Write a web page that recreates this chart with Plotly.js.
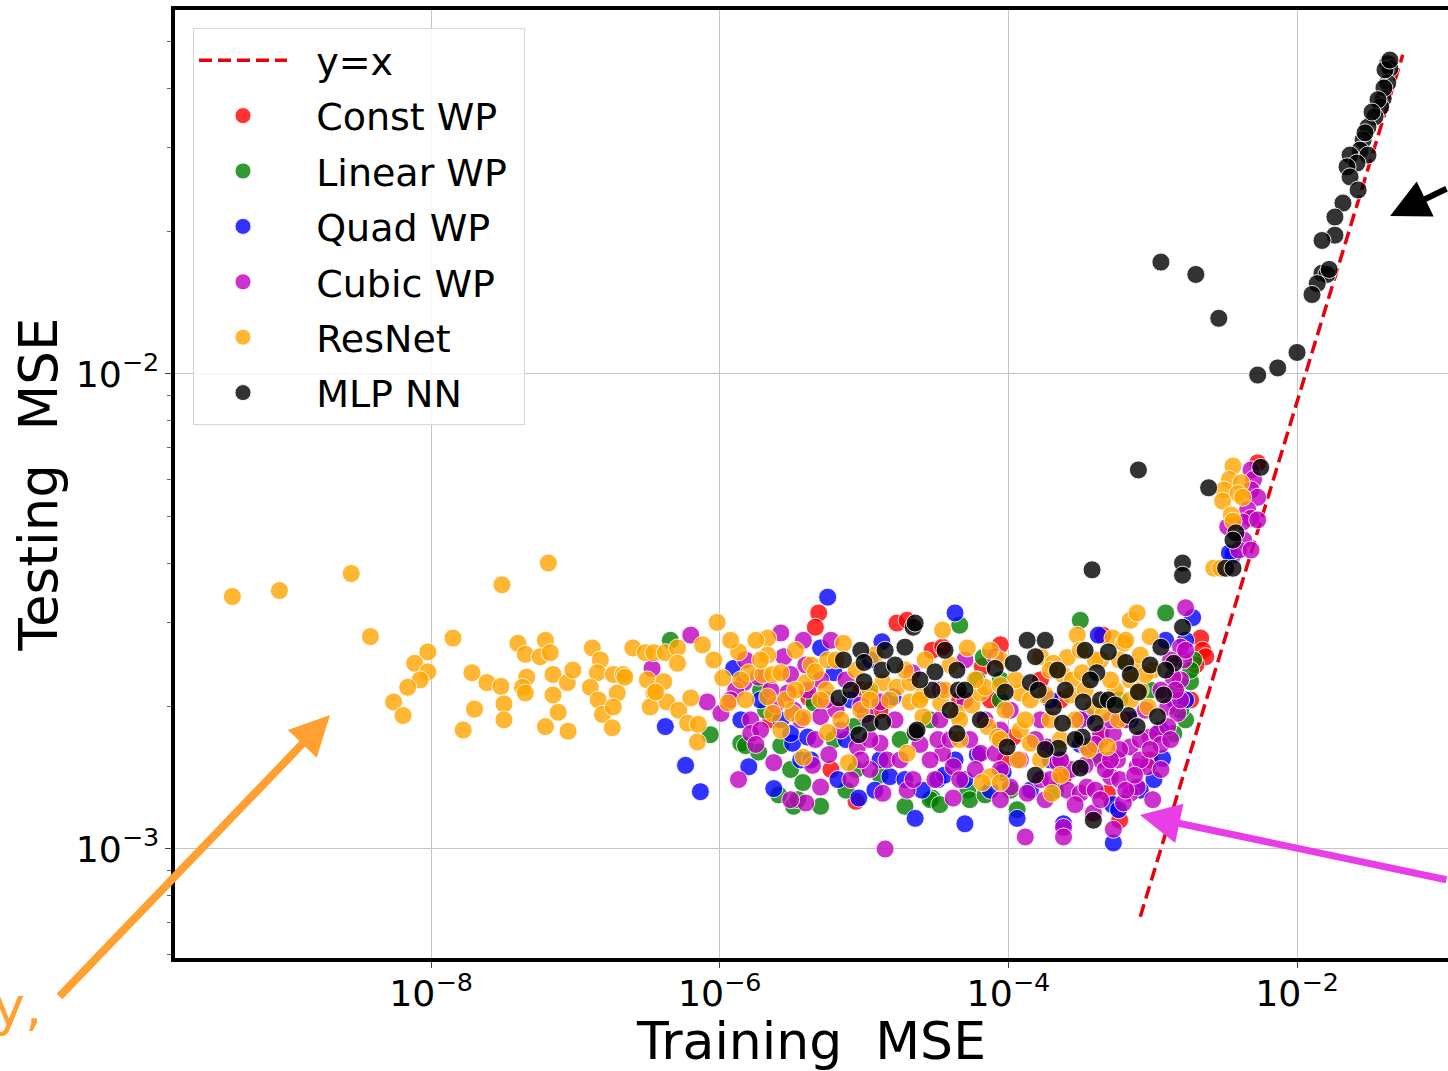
<!DOCTYPE html>
<html><head><meta charset="utf-8">
<script src="https://cdn.plot.ly/plotly-3.0.1.min.js"></script>
<style>html,body{margin:0;padding:0;overflow:hidden;background:#fff}</style>
</head><body><div id="chart" style="width:1448px;height:1071px"></div>
<script>
// Reference line
const lineX = [8.2e-4, 5.4e-2];
const lineY = [7.2e-4, 4.7e-2];

const constX = [4.85e-6,4.6e-6,1.69e-5,8.8e-6,4.15e-6,2.96e-5,3.5e-5,8.8e-5,1.99e-5,6.6e-5,4.85e-4,2.15e-3,2.22e-3,2.33e-3,4.5e-4,2.41e-4,1.08e-4,5.34e-3,1.29e-5,4.6e-5,1.67e-4,9.6e-4,5.9e-6,1.83e-3,9.5e-5,5.9e-4,1.99e-3,2.26e-6,9.5e-6,7.5e-5,4.35e-4,2.3e-4];
const constY = [3.14e-3,2.93e-3,2.99e-3,1.26e-3,2.08e-3,2.62e-3,2.66e-3,2.69e-3,3.03e-3,2.42e-3,1.31e-3,2.78e-3,2.62e-3,2.54e-3,2.82e-3,1.42e-3,1.72e-3,6.5e-3,1.96e-3,2.06e-3,2.27e-3,1.54e-3,1.47e-3,2.06e-3,1.54e-3,1.15e-3,2.44e-3,1.87e-3,2.16e-3,2.06e-3,1.7e-3,2.06e-3];

const linearX = [4.55e-7,8.6e-7,1.4e-6,1.86e-6,3.77e-6,3.25e-6,5.0e-6,1.92e-5,6.2e-6,4.5e-6,8.5e-6,4.6e-5,6.7e-5,2.96e-5,5.25e-5,3.15e-4,1.23e-3,1.83e-3,1.92e-3,1.4e-3,1.15e-4,6.1e-5,1.1e-5,1.78e-5,2.87e-5,8.8e-5,2.3e-4,5.9e-4,9.6e-4,1.69e-3,1.92e-6,2.65e-6,7.5e-6,2.87e-5,1.51e-6,2.56e-6,3.47e-6,5.4e-5,1.03e-4,1.44e-3,2.08e-6,3.1e-6,8.8e-6,1.29e-5,3.35e-5,6.9e-5,2.12e-4,4.0e-4,1.83e-3,1.56e-3,8.8e-5];
const linearY = [2.75e-3,1.74e-3,1.67e-3,1.6e-3,1.38e-3,1.23e-3,1.23e-3,1.23e-3,1.7e-3,2.03e-3,1.81e-3,2.96e-3,2.53e-3,1.28e-3,1.33e-3,3.03e-3,3.14e-3,2.25e-3,2.5e-3,1.75e-3,1.21e-3,2.27e-3,2.16e-3,1.7e-3,1.87e-3,2.06e-3,1.54e-3,2.06e-3,2.16e-3,1.87e-3,2.16e-3,1.65e-3,1.33e-3,1.27e-3,1.65e-3,1.3e-3,1.27e-3,1.27e-3,1.33e-3,2.16e-3,1.96e-3,1.47e-3,1.47e-3,1.43e-3,1.24e-3,1.3e-3,1.33e-3,1.58e-3,2.38e-3,1.96e-3,2.27e-3];

const quadX = [5.6e-6,1.25e-6,4.2e-7,5.8e-7,7.35e-7,1.59e-6,2.37e-6,5.0e-6,3.2e-6,1.33e-5,6.6e-6,9.2e-6,1.51e-5,2.26e-5,3.1e-6,4.07e-6,6.2e-6,1.59e-5,4.27e-5,5.0e-5,5.0e-5,3.25e-5,2.52e-5,1.15e-4,2.41e-4,5.34e-4,5.25e-4,5.8e-4,4.2e-4,1.17e-3,1.02e-3,1.89e-3,1.4e-3,6.1e-5,9.2e-5,3.5e-4,3.6e-3,3.4e-3,1.29e-5,3.6e-5,8.8e-5,1.95e-4,7.0e-4,1.92e-6,3.64e-6,8.1e-6,1.23e-3,1.69e-3,1.4e-6,2.65e-6,4.27e-6,7.5e-6,1.19e-5,1.92e-5,7.5e-5,1.42e-4,1.95e-4,3.15e-4,8.2e-4,1.14e-3,1.69e-3,1.1e-5,4.27e-5];
const quadY = [3.39e-3,2.4e-3,1.81e-3,1.5e-3,1.32e-3,1.49e-3,1.34e-3,2.65e-3,1.67e-3,2.73e-3,1.4e-3,1.28e-3,1.42e-3,1.16e-3,1.75e-3,1.72e-3,2.35e-3,2.09e-3,3.14e-3,1.13e-3,1.4e-3,1.4e-3,1.33e-3,1.16e-3,1.13e-3,1.03e-3,1.24e-3,1.21e-3,2.82e-3,1.55e-3,1.4e-3,3.07e-3,2.06e-3,1.58e-3,1.45e-3,1.9e-3,4.16e-3,4.2e-3,1.54e-3,1.43e-3,1.7e-3,2.06e-3,1.87e-3,2.06e-3,1.54e-3,2.06e-3,2.75e-3,2.06e-3,1.87e-3,1.87e-3,1.54e-3,1.7e-3,1.33e-3,1.4e-3,1.33e-3,1.33e-3,1.54e-3,1.66e-3,1.33e-3,1.78e-3,2.75e-3,2.5e-3,1.54e-3];

const cubicX = [6.3e-7,3.4e-7,8.2e-7,1.02e-6,1.35e-6,2.37e-6,2.65e-6,3.8e-6,1.47e-6,1.86e-6,2.78e-6,1.64e-6,1.64e-6,1.92e-6,2.96e-6,3.25e-6,4.07e-6,5.0e-6,5.0e-6,4.4e-6,5.7e-6,5.0e-6,3.95e-6,8.1e-6,9.0e-6,1.29e-5,1.44e-5,1.35e-5,1.99e-5,2.15e-5,1.29e-5,1.4e-5,2.19e-5,3.35e-5,3.5e-5,4.15e-5,4.15e-5,3.25e-5,6.4e-5,8.1e-5,8.8e-5,1.03e-4,1.35e-4,1.31e-4,5.0e-5,8.1e-5,1.67e-4,1.86e-4,2.56e-4,3.15e-4,3.5e-4,2.41e-4,2.41e-4,3.88e-4,5.34e-4,5.1e-4,5.7e-4,7.0e-4,7.8e-4,9.2e-4,7.0e-4,7.8e-4,1.0e-3,6.27e-4,9.6e-4,1.08e-3,1.27e-3,1.49e-3,1.56e-3,1.64e-3,1.69e-3,1.56e-3,1.38e-3,1.27e-3,4.35e-4,3.5e-4,5.34e-4,1.67e-4,2.19e-4,4.8e-3,5.0e-3,4.8e-3,5.34e-3,4.55e-3,4.8e-3,4.2e-3,3.31e-3,4.27e-3,3.95e-3,4.8e-3,5.34e-3,4.35e-4,5.9e-4,8.2e-4,1.14e-3,4.6e-5,5.4e-5,2.87e-5,1.1e-5,6.9e-6,1.02e-5,1.29e-6,1.51e-6,2.26e-6,3.1e-6,3.64e-6,4.6e-6,6.4e-6,7.5e-6,9.5e-6,1.1e-5,1.64e-5,1.78e-5,2.44e-5,3.1e-5,3.95e-5,5.9e-5,6.9e-5,8.8e-5,1.21e-4,1.54e-4,1.95e-4,2.7e-4,3.4e-4,4.0e-4,4.7e-4,5.9e-4,6.5e-4,8.2e-4,8.9e-4,1.14e-3,1.33e-3,1.56e-3,4.35e-4,2.9e-4,1.8e-4,5.0e-5,3.35e-5,1.03e-4,9.5e-6,5.45e-6,4.0e-4,5.1e-4,6.5e-4,7.5e-4,9.6e-4,1.14e-3,1.33e-3,1.44e-3,1.69e-3,5.1e-4,3.15e-4,2.3e-4,1.19e-6,1.78e-6,2.44e-6,3.95e-6,5.9e-6,3.1e-6,8.8e-5];
const cubicY = [2.82e-3,2.4e-3,2.04e-3,1.93e-3,1.4e-3,1.52e-3,2.85e-3,2.75e-3,2.24e-3,2.3e-3,2.54e-3,1.87e-3,1.75e-3,1.78e-3,2.13e-3,1.96e-3,2.16e-3,2.27e-3,1.9e-3,1.5e-3,1.58e-3,1.35e-3,1.25e-3,1.4e-3,1.64e-3,1.67e-3,1.54e-3,1.31e-3,1.33e-3,2.35e-3,2.04e-3,1.0e-3,1.4e-3,1.87e-3,1.59e-3,1.49e-3,1.28e-3,1.7e-3,1.59e-3,1.59e-3,1.78e-3,1.35e-3,1.31e-3,1.06e-3,2.5e-3,2.54e-3,1.87e-3,1.64e-3,1.33e-3,1.31e-3,1.35e-3,1.11e-3,1.06e-3,1.19e-3,1.1e-3,1.42e-3,1.54e-3,1.64e-3,1.49e-3,1.49e-3,1.31e-3,1.35e-3,1.27e-3,1.25e-3,1.72e-3,1.75e-3,1.99e-3,1.93e-3,2.27e-3,2.5e-3,3.22e-3,2.66e-3,2.3e-3,1.81e-3,1.75e-3,1.64e-3,1.75e-3,1.4e-3,1.52e-3,6.28e-3,6.0e-3,5.7e-3,5.5e-3,5.18e-3,4.97e-3,4.88e-3,4.77e-3,4.47e-3,4.26e-3,4.26e-3,4.93e-3,1.54e-3,1.4e-3,1.54e-3,1.66e-3,1.4e-3,1.7e-3,1.54e-3,1.47e-3,1.78e-3,1.92e-3,2.16e-3,2.5e-3,2.16e-3,2.33e-3,1.87e-3,1.7e-3,1.96e-3,2.27e-3,1.54e-3,1.7e-3,1.87e-3,1.54e-3,1.66e-3,1.4e-3,1.7e-3,1.47e-3,1.87e-3,1.47e-3,1.54e-3,1.7e-3,1.4e-3,1.47e-3,1.5e-3,1.33e-3,1.47e-3,1.62e-3,1.87e-3,1.7e-3,1.96e-3,2.16e-3,2.5e-3,2.06e-3,1.27e-3,1.24e-3,1.27e-3,2.06e-3,2.16e-3,1.96e-3,2.01e-3,2.06e-3,1.66e-3,1.54e-3,1.33e-3,1.43e-3,1.62e-3,1.47e-3,1.7e-3,2.16e-3,2.62e-3,1.87e-3,1.87e-3,1.54e-3,2.06e-3,1.66e-3,2.01e-3,2.44e-3,2.75e-3,1.27e-3,1.27e-3];

const resnetX = [4.2e-10,8.9e-10,2.8e-9,3.8e-9,3.1e-8,6.5e-8,9.5e-9,7.7e-9,9.5e-9,8.4e-9,6.9e-9,5.5e-9,6.4e-9,1.42e-8,1.92e-8,2.44e-8,3.05e-8,4.0e-8,4.5e-8,6.2e-8,5.7e-8,6.7e-8,4.6e-8,4.3e-8,4.5e-8,3.2e-8,3.2e-8,1.67e-8,2.0e-8,6.2e-8,7.0e-8,8.8e-8,9.6e-8,7.0e-8,7.6e-8,8.9e-8,1.31e-7,1.49e-7,1.42e-7,1.27e-7,1.44e-7,1.54e-7,1.83e-7,2.15e-7,1.95e-7,1.83e-7,1.8e-7,2.5e-7,3.05e-7,3.5e-7,3.15e-7,3.5e-7,3.3e-7,4.1e-7,4.3e-7,4.2e-7,5.1e-7,7.6e-7,9.6e-7,2.2e-7,3.6e-7,5.1e-7,5.2e-7,6.3e-7,6.0e-7,7.1e-7,7.0e-7,9.1e-7,1.05e-6,1.14e-6,1.35e-6,1.51e-6,1.59e-6,2.15e-6,2.15e-6,1.99e-6,2.33e-6,2.65e-6,2.15e-6,2.33e-6,2.65e-6,3.2e-6,3.95e-6,3.8e-6,4.3e-6,4.6e-6,5.6e-6,5.6e-6,3.8e-6,7.2e-6,7.8e-6,9.5e-6,1.35e-5,1.69e-5,2.08e-5,1.99e-5,3.5e-5,5.2e-5,2.08e-5,2.56e-5,3.4e-5,4.4e-5,5.6e-5,6.4e-5,6.9e-5,7.2e-5,8.4e-5,7.5e-5,8.8e-5,6.6e-5,1.17e-4,1.21e-4,1.42e-4,1.67e-4,2.0e-4,2.3e-4,2.56e-4,2.37e-4,3.0e-4,2.78e-4,3.25e-4,2.7e-4,3.9e-4,5.3e-4,6.3e-4,7.4e-4,7.0e-4,7.8e-4,7.0e-4,5.5e-4,4.55e-4,4.85e-4,3.6e-4,9.6e-4,1.0e-3,8.2e-4,9.3e-4,1.67e-4,2.05e-4,1.21e-4,2.56e-5,3.6e-3,3.4e-3,3.1e-3,4.1e-3,3.9e-3,3.05e-3,4.2e-3,3.5e-3,3.6e-3,2.65e-3,2.95e-3,1.1e-5,3.95e-5,8.8e-5,4.6e-5,7.0e-4,4.35e-4,1.95e-4,1.19e-6,1.92e-6,2.87e-6,3.35e-6,5.45e-6,6.9e-6,8.8e-6,1.19e-5,1.51e-5,1.92e-5,2.65e-5,3.64e-5,4.6e-5,5.9e-5,7.5e-5,9.5e-5,1.12e-4,1.31e-4,1.8e-4,2.3e-4,2.9e-4,3.4e-4,4.0e-4,5.1e-4,5.8e-4,6.5e-4,8.2e-4,8.9e-4,3.15e-4,8.8e-5,2.44e-5,1.1e-5,1.4e-6,1.78e-6,3.35e-6,5.0e-6,6.4e-6,8.8e-5,1.95e-4,5.9e-4,1.42e-4];
const resnetY = [3.4e-3,3.5e-3,3.8e-3,2.8e-3,3.6e-3,4.0e-3,2.6e-3,2.46e-3,2.36e-3,2.27e-3,2.19e-3,2.04e-3,1.91e-3,2.78e-3,2.35e-3,2.24e-3,2.2e-3,2.71e-3,2.57e-3,2.75e-3,2.54e-3,2.59e-3,2.3e-3,2.19e-3,2.13e-3,2.02e-3,1.87e-3,1.78e-3,1.97e-3,1.81e-3,2.33e-3,2.24e-3,2.38e-3,2.11e-3,1.94e-3,1.77e-3,2.65e-3,2.5e-3,2.35e-3,2.19e-3,2.06e-3,1.92e-3,2.33e-3,2.33e-3,2.13e-3,1.99e-3,1.8e-3,2.65e-3,2.59e-3,2.59e-3,2.27e-3,2.13e-3,1.99e-3,2.25e-3,2.04e-3,2.59e-3,2.65e-3,2.69e-3,3.0e-3,2.3e-3,2.14e-3,2.46e-3,1.96e-3,2.08e-3,1.84e-3,1.83e-3,1.68e-3,2.5e-3,2.29e-3,2.03e-3,2.6e-3,2.06e-3,2.35e-3,2.78e-3,2.56e-3,2.33e-3,2.33e-3,2.35e-3,2.09e-3,1.93e-3,1.78e-3,1.93e-3,2.24e-3,1.89e-3,2.44e-3,2.36e-3,2.5e-3,1.76e-3,1.56e-3,2.71e-3,1.52e-3,1.96e-3,2.24e-3,2.19e-3,2.04e-3,1.59e-3,2.89e-3,2.65e-3,2.24e-3,2.11e-3,2.03e-3,1.93e-3,2.01e-3,2.13e-3,2.19e-3,1.81e-3,1.72e-3,1.42e-3,1.38e-3,1.38e-3,1.54e-3,1.78e-3,1.67e-3,1.54e-3,1.31e-3,1.43e-3,2.53e-3,2.33e-3,2.82e-3,2.27e-3,2.35e-3,2.11e-3,1.99e-3,2.78e-3,2.71e-3,2.42e-3,3.03e-3,3.14e-3,2.27e-3,2.16e-3,1.93e-3,1.64e-3,1.62e-3,2.8e-3,2.38e-3,2.16e-3,1.99e-3,2.54e-3,2.46e-3,2.13e-3,1.9e-3,6.4e-3,6.0e-3,5.7e-3,5.9e-3,5.6e-3,5.4e-3,5.5e-3,5.05e-3,4.9e-3,3.9e-3,3.9e-3,2.16e-3,2.44e-3,2.5e-3,1.7e-3,2.06e-3,2.5e-3,1.87e-3,2.75e-3,2.5e-3,2.06e-3,2.62e-3,2.16e-3,1.87e-3,2.38e-3,2.56e-3,2.06e-3,2.38e-3,2.5e-3,2.16e-3,1.87e-3,2.27e-3,2.62e-3,1.96e-3,2.27e-3,1.87e-3,2.11e-3,1.7e-3,1.87e-3,2.16e-3,2.5e-3,2.27e-3,1.87e-3,2.75e-3,2.56e-3,2.33e-3,2.62e-3,1.7e-3,2.06e-3,2.06e-3,2.27e-3,2.75e-3,2.16e-3,2.06e-3,2.5e-3,2.21e-3,2.38e-3,2.5e-3,2.06e-3];

const mlpX = [4.25e-2,4.4e-2,4.25e-2,3.95e-2,3.8e-2,3.47e-2,3.1e-2,2.87e-2,2.73e-2,3.1e-2,2.33e-2,2.6e-2,2.22e-2,2.33e-2,2.65e-2,2.08e-2,1.83e-2,1.83e-2,1.49e-2,1.49e-2,1.61e-2,1.38e-2,1.27e-2,4.07e-2,4.0e-2,3.64e-2,3.31e-2,2.96e-2,1.67e-2,4.4e-2,1.0e-2,7.35e-3,5.34e-3,1.14e-3,1.99e-3,2.87e-3,7.96e-4,2.44e-3,5.6e-3,3.77e-3,3.6e-3,3.2e-3,3.6e-3,3.8e-4,1.61e-3,1.61e-3,7.2e-6,9.5e-6,1.0e-5,1.33e-5,1.64e-5,1.92e-5,2.19e-5,1.0e-5,6.7e-6,1.1e-5,1.35e-5,9.2e-6,2.26e-5,2.26e-5,3.1e-5,4.4e-5,2.96e-5,3.95e-5,4.5e-5,4.4e-5,2.33e-5,8.1e-5,1.08e-4,9.5e-5,1.35e-4,1.54e-4,1.42e-4,1.61e-4,9.8e-5,1.54e-4,2.19e-4,2.05e-4,2.37e-4,2.22e-4,3.25e-4,2.9e-4,3.15e-4,3.4e-4,4.1e-4,3.3e-4,4.35e-4,4.93e-4,4.0e-4,4.93e-4,6.5e-4,7.96e-4,6.8e-4,7.8e-4,1.08e-3,1.14e-3,1.4e-3,1.19e-3,1.61e-3,3.88e-4,9.6e-4,8.1e-6,1.4e-5,2.44e-5,3.64e-5,5.0e-5,6.4e-5,1.8e-4,2.48e-4,3.7e-4,5.5e-4,7.0e-4,1.23e-3,1.8e-4];
const mlpY = [4.5e-2,4.4e-2,4.1e-2,3.8e-2,3.65e-2,3.48e-2,3.31e-2,3.11e-2,2.96e-2,2.89e-2,2.89e-2,2.78e-2,2.73e-2,2.6e-2,2.44e-2,2.29e-2,2.14e-2,1.96e-2,1.91e-2,1.63e-2,1.62e-2,1.55e-2,1.47e-2,4.37e-2,4.0e-2,3.78e-2,3.56e-2,3.22e-2,1.66e-2,4.58e-2,1.11e-2,1.03e-2,9.95e-3,1.72e-2,1.62e-2,1.31e-2,6.28e-3,5.76e-3,6.36e-3,4.63e-3,4.47e-3,3.9e-3,3.9e-3,3.87e-3,4.0e-3,3.77e-3,2.5e-3,2.62e-3,2.47e-3,2.38e-3,2.44e-3,2.66e-3,2.93e-3,2.25e-3,2.08e-3,1.84e-3,1.85e-3,1.74e-3,1.76e-3,2.99e-3,2.36e-3,2.38e-3,2.16e-3,1.96e-3,2.16e-3,1.75e-3,1.78e-3,2.4e-3,2.46e-3,2.14e-3,2.75e-3,2.54e-3,2.24e-3,2.16e-3,1.64e-3,1.43e-3,2.38e-3,1.99e-3,1.84e-3,1.63e-3,1.72e-3,1.7e-3,1.48e-3,2.62e-3,2.35e-3,2.04e-3,2.06e-3,2.06e-3,1.84e-3,2.6e-3,2.47e-3,2.14e-3,1.91e-3,1.81e-3,1.9e-3,2.66e-3,2.46e-3,2.11e-3,2.93e-3,1.15e-3,2.44e-3,2.16e-3,2.62e-3,2.27e-3,2.62e-3,2.16e-3,1.87e-3,2.75e-3,2.16e-3,2.27e-3,2.01e-3,2.33e-3,2.38e-3,1.62e-3];

const seriesNames = ['Const WP','Linear WP','Quad WP','Cubic WP','ResNet','MLP NN'];
const seriesColors = ['rgba(255,0,0,0.8)','rgba(0,128,0,0.8)','rgba(0,0,255,0.8)','rgba(191,0,191,0.8)','rgba(255,165,0,0.8)','rgba(0,0,0,0.8)'];
const seriesX = [constX, linearX, quadX, cubicX, resnetX, mlpX];
const seriesY = [constY, linearY, quadY, cubicY, resnetY, mlpY];

const FONT = 'DejaVu Sans, Noto Sans, sans-serif';
const PAD = '\u00a0\u00a0';
const TAIL = '\u00a0';

const traces = [{
  x: lineX, y: lineY, mode: 'lines', name: PAD + 'y=x', legendgroup: 'g0',
  line: {color: '#e8000b', width: 3.5, dash: '13px,6px'}, hoverinfo: 'skip'
}];
seriesNames.forEach((n, i) => {
  traces.push({
    x: seriesX[i], y: seriesY[i], mode: 'markers', type: 'scatter', name: PAD + n + TAIL,
    legendgroup: 'g' + (i + 1),
    marker: {size: 18, color: seriesColors[i], line: {color: 'rgba(255,255,255,0.85)', width: 1}}
  });
});

const layout = {
  width: 1448, height: 1071,
  margin: {l: 175, r: 0, t: 10, b: 113},
  paper_bgcolor: '#fff', plot_bgcolor: '#fff',
  font: {family: FONT, color: '#000'},
  showlegend: true,
  legend: {
    x: 0.01414, y: 0.981, xanchor: 'left', yanchor: 'top',
    bgcolor: 'rgba(255,255,255,0.85)', bordercolor: '#d6d6d6', borderwidth: 1,
    font: {family: FONT, size: 38, color: '#000'},
    itemwidth: 88, tracegroupgap: 3, traceorder: 'grouped'
  },
  xaxis: {
    type: 'log', range: [-9.774, -0.954], dtick: 2, tick0: 0,
    exponentformat: 'power', showexponent: 'all',
    showgrid: true, gridcolor: '#c4c4c4', gridwidth: 1, zeroline: false,
    showline: true, linecolor: '#000', linewidth: 4, mirror: true,
    ticks: 'outside', ticklen: 6, tickwidth: 1, tickcolor: '#444',
    ticklabelstandoff: -4,
    tickfont: {family: FONT, size: 29, color: '#000'},
    title: {text: '\u00a0\u00a0Training\u00a0\u00a0MSE', font: {family: FONT, size: 52, color: '#000'}, standoff: 12}
  },
  yaxis: {
    type: 'log', range: [-3.2295, -1.2337], dtick: 1,
    exponentformat: 'power', showexponent: 'all',
    showgrid: true, gridcolor: '#c4c4c4', gridwidth: 1, zeroline: false,
    showline: true, linecolor: '#000', linewidth: 4, mirror: false,
    ticks: 'outside', ticklen: 6, tickwidth: 1, tickcolor: '#444',
    minor: {ticks: 'outside', ticklen: 4, tickwidth: 1, tickcolor: '#666', showgrid: false},
    tickfont: {family: FONT, size: 29, color: '#000'},
    title: {text: 'Testing\u00a0\u00a0MSE', font: {family: FONT, size: 53, color: '#000'}, standoff: 2}
  },
  annotations: [
    {xref: 'paper', yref: 'paper', x: 0.1218, y: 0.2563, text: '', showarrow: true,
     ax: -272, ay: 283, arrowcolor: '#ffa030', arrowwidth: 8, arrowhead: 2, arrowsize: 1.0, standoff: 0},
    {xref: 'paper', yref: 'paper', x: 0.9545, y: 0.7827, text: '', showarrow: true,
     ax: 58, ay: -28, arrowcolor: '#000', arrowwidth: 6, arrowhead: 2, arrowsize: 1.3, standoff: 0},
    {xref: 'paper', yref: 'paper', x: 0.758, y: 0.1508, text: '', showarrow: true,
     ax: 308, ay: 65, arrowcolor: '#e83ee8', arrowwidth: 7, arrowhead: 2, arrowsize: 1.15, standoff: 0},
    {xref: 'paper', yref: 'paper', x: -0.1029, y: -0.0507, xanchor: 'right', yanchor: 'middle',
     text: 'y,', showarrow: false, font: {family: FONT, size: 54, color: '#ffa030'}}
  ]
};

Plotly.newPlot('chart', traces, layout, {displayModeBar: false, staticPlot: true});
</script></body></html>
